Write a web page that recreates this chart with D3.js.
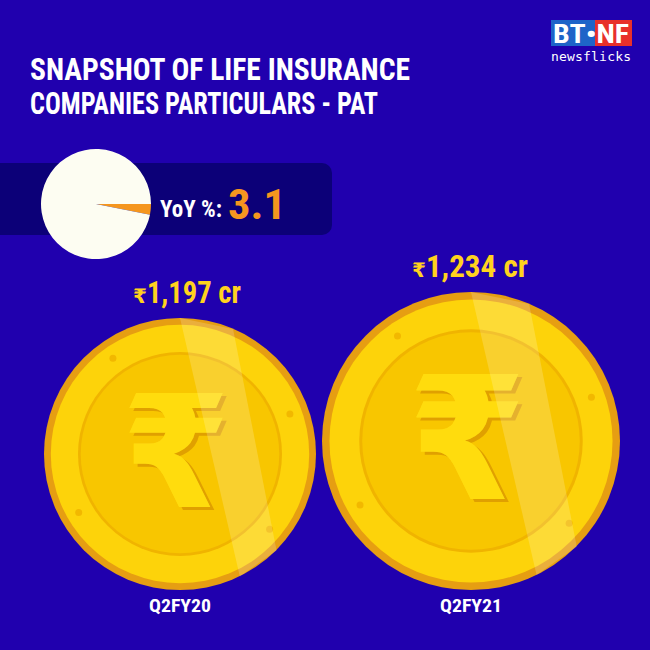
<!DOCTYPE html><html><head><meta charset="utf-8"><script src="https://cdn.jsdelivr.net/npm/d3@7"></script>
<style>body{margin:0;background:#2000ae}</style></head><body><script>
const categories=["Q2FY20","Q2FY21"];
const values=[1197,1234];
const valueLabels=["1,197 cr","1,234 cr"];
const yoy=3.1;
const W=650,H=650;
const svg=d3.select("body").append("svg").attr("width",W).attr("height",H);
const f=svg.append("defs").append("filter").attr("id","sh").attr("x","-20%").attr("y","-20%").attr("width","140%").attr("height","140%");
f.append("feDropShadow").attr("dx",4).attr("dy",3).attr("stdDeviation",0).attr("flood-color","#e0a000");
svg.append("rect").attr("width",W).attr("height",H).attr("fill","#2000ae");
const F="Roboto Condensed, 'Liberation Sans Narrow', 'DejaVu Sans Condensed', sans-serif";
["SNAPSHOT OF LIFE INSURANCE","COMPANIES PARTICULARS - PAT"].forEach((t,i)=>
 svg.append("text").attr("x",30).attr("y",80+i*34).text(t).attr("fill","#fff").attr("font-family",F).attr("font-weight","bold").attr("font-size",31).attr("textLength",i?348:380).attr("lengthAdjust","spacingAndGlyphs"));
svg.append("rect").attr("x",551).attr("y",20).attr("width",44).attr("height",26).attr("fill","#1e64c8");
svg.append("rect").attr("x",595).attr("y",20).attr("width",37).attr("height",26).attr("fill","#e8302a");
svg.append("text").attr("x",591).attr("y",43).attr("text-anchor","middle").text("BT•NF").attr("fill","#fff").attr("font-family",F).attr("font-weight","bold").attr("font-size",25).attr("textLength",76).attr("lengthAdjust","spacingAndGlyphs");
svg.append("text").attr("x",591).attr("y",61).attr("text-anchor","middle").text("newsflicks").attr("fill","#fff").attr("font-family","DejaVu Sans Mono, monospace").attr("font-size",13).attr("textLength",80);
svg.append("path").attr("d","M0,163H322a10,10 0 0 1 10,10V225a10,10 0 0 1 -10,10H0Z").attr("fill","#0c0078");
const pie=d3.pie().sort(null).startAngle(Math.PI/2).endAngle(Math.PI/2+2*Math.PI)([yoy,100-yoy]);
const arc=d3.arc().innerRadius(0).outerRadius(55);
svg.append("g").attr("transform","translate(96,204)").selectAll("path").data(pie).join("path").attr("d",arc).attr("fill",(d,i)=>i?"#fdfdf2":"#f5961e");
svg.append("text").attr("x",160).attr("y",217).text("YoY %:").attr("fill","#fff").attr("font-family",F).attr("font-weight","bold").attr("font-size",24).attr("textLength",62).attr("lengthAdjust","spacingAndGlyphs");
svg.append("text").attr("x",228).attr("y",219).text(yoy).attr("fill","#f5961e").attr("font-family",F).attr("font-weight","bold").attr("font-size",42).attr("textLength",58).attr("lengthAdjust","spacingAndGlyphs");
const x=d3.scalePoint().domain(categories).range([180,471]);
const r=d3.scaleLinear().domain([1197,1234]).range([136,149]);
const cy=[454,441];
categories.forEach((c,i)=>{
 const R=r(values[i]),cx=x(c),g=svg.append("g").attr("transform",`translate(${cx},${cy[i]})`);
 g.append("circle").attr("r",R).attr("fill","#e69e12");
 g.append("circle").attr("r",R*0.95).attr("fill","#fdd30a");
 g.append("circle").attr("r",R*0.75).attr("fill","#f0b400");
 g.append("circle").attr("r",R*0.73).attr("fill","#f8c600");
 [-125,-20,150,40].forEach(a=>{const t=a*Math.PI/180;g.append("circle").attr("cx",Math.cos(t)*R*0.86).attr("cy",Math.sin(t)*R*0.86).attr("r",3.5).attr("fill","#f2b800");});
 g.append("text").attr("x",-4).attr("y",R*0.39).attr("text-anchor","middle").text("₹").attr("fill","#ffdc10").attr("filter","url(#sh)").attr("font-family","DejaVu Sans, sans-serif").attr("font-weight","bold").attr("font-size",R*1.15);
 g.append("path").attr("d",`M0,${-R}L${R*0.39},${-R*0.92}L${R*0.71},${R*0.71}L${R*0.44},${R*0.9}Z`).attr("fill","#fff").attr("opacity",0.18);
 svg.append("text").attr("x",cx).attr("y",612).attr("text-anchor","middle").text(c).attr("fill","#fff").attr("font-family",F).attr("font-weight","bold").attr("font-size",19).attr("textLength",62).attr("lengthAdjust","spacingAndGlyphs");
 const lt=svg.append("text").attr("x",[133,412][i]).attr("y",[303,277][i]).attr("fill","#ffd21e").attr("font-family",F).attr("font-weight","bold");
 lt.append("tspan").text("₹").attr("font-size",20).attr("font-family","DejaVu Sans, sans-serif");
 lt.append("tspan").text(valueLabels[i]).attr("font-size",32).attr("textLength",[94,102][i]).attr("lengthAdjust","spacingAndGlyphs");
});
</script></body></html>
